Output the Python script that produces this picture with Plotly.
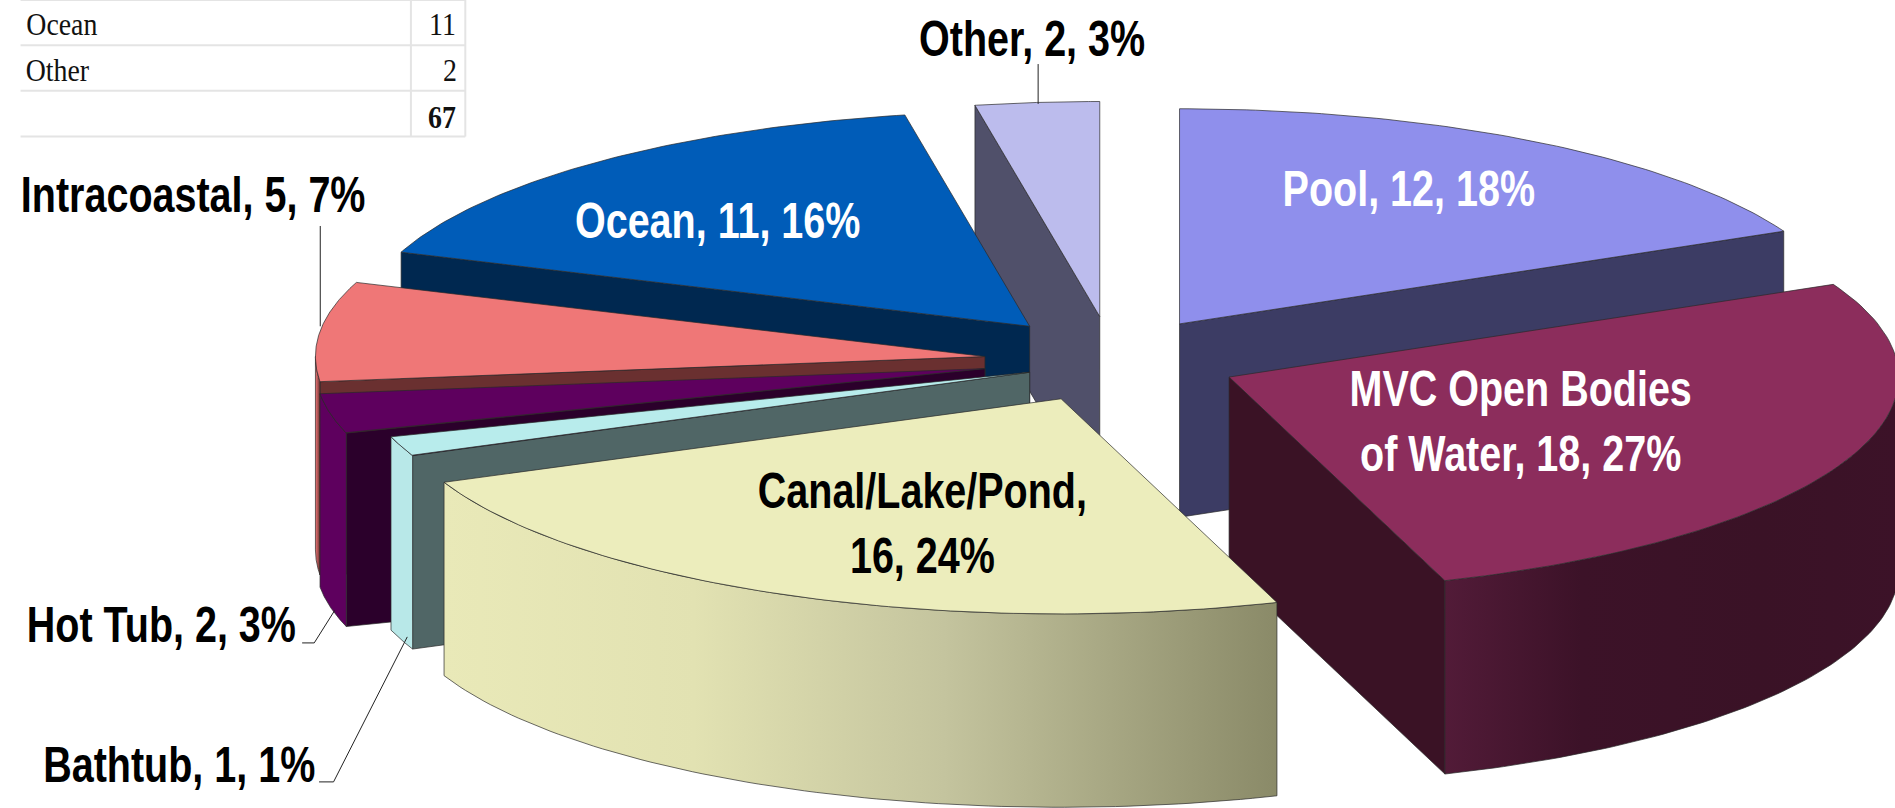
import numpy as np
import plotly.graph_objects as go

# ---- data ----
CATEGORIES = ["Pool", "MVC Open Bodies of Water", "Canal/Lake/Pond", "Bathtub",
              "Hot Tub", "Intracoastal", "Ocean", "Other"]
VALUES = [12, 18, 16, 1, 2, 5, 11, 2]
TABLE_ROWS = ["Ocean", "Other"]
TOTAL = sum(VALUES)

# ---- styles ----
TOP = ["#8f8fec", "#8c2d5c", "#ecedbc", "#b8ecec", "#5e005e", "#ef7777", "#005cb8", "#bcbced"]
FACE = ["#3c3c64", "#3a1225", "#75755e", "#506666", "#2b002b", "#6a3030", "#002850", "#50506a"]
RIM = [
    [[0, "#3c3c64"], [1, "#3c3c64"]],
    [[0, "#521b38"], [0.3, "#3c1228"], [0.7, "#3a1226"], [1, "#3c1228"]],
    [[0, "#e9e9b8"], [0.3, "#e2e2b2"], [0.6, "#c4c49e"], [1, "#8a8a68"]],
    [[0, "#b8e8e8"], [1, "#b8e8e8"]],
    [[0, "#5e005e"], [1, "#5e005e"]],
    [[0, "#ef7777"], [1, "#6a3030"]],
    [[0, "#002850"], [1, "#002850"]],
    [[0, "#50506a"], [1, "#50506a"]],
]
# exploded apex of each slice, in plot units
APEX = [(976, 268), (1017, 312), (878, 330), (852, 308), (815, 305), (815, 295), (852, 270), (910, 262)]
RX, RY, DEPTH = 554, 178, 160
DRAW_ORDER = [0, 7, 6, 5, 4, 3, 1, 2]
W, H = 1568, 668.6
OUTLINE = dict(color="#2a2a2a", width=0.7)

fig = go.Figure()


def poly(xs, ys, color=None, gradient=None):
    kw = dict(fillgradient=dict(type="horizontal", colorscale=gradient)) if gradient else dict(fillcolor=color)
    fig.add_trace(go.Scatter(x=xs, y=ys, mode="lines", fill="toself", line=OUTLINE,
                             hoverinfo="skip", showlegend=False, **kw))


def pt(ax, ay, t):
    return ax + RX * np.sin(t), ay - RY * np.cos(t)


edges = np.cumsum([0] + VALUES) / TOTAL * 2 * np.pi
for i in DRAW_ORDER:
    a0, a1 = edges[i], edges[i + 1]
    ax, ay = APEX[i]
    # start / end cut faces, only when they face the viewer
    for ang, vis in ((a0, np.sin(a0) < -1e-9), (a1, np.sin(a1) > 1e-9)):
        if vis:
            ex, ey = pt(ax, ay, ang)
            poly([ax, ex, ex, ax, ax], [ay, ey, ey + DEPTH, ay + DEPTH, ay], FACE[i])
    # outer rim: only the front half
    lo, hi = max(a0, np.pi / 2), min(a1, 3 * np.pi / 2)
    if hi > lo:
        t = np.linspace(lo, hi, 80)
        x, y = pt(ax, ay, t)
        poly(np.r_[x, x[::-1], x[0]], np.r_[y, y[::-1] + DEPTH, y[0]], gradient=RIM[i])
    # top
    t = np.linspace(a0, a1, 80)
    x, y = pt(ax, ay, t)
    poly(np.r_[ax, x, ax], np.r_[ay, y, ay], TOP[i])

# ---- leader lines ----
LEADERS = [
    ([265, 265], [187, 270]),
    ([859, 859], [53, 86]),
    ([250, 260, 277], [532, 532, 505]),
    ([264, 276, 337], [647, 647, 527]),
]
for lx, ly in LEADERS:
    fig.add_trace(go.Scatter(x=lx, y=ly, mode="lines", line=dict(color="#222", width=1),
                             hoverinfo="skip", showlegend=False))


def label(i):
    pct = round(VALUES[i] / TOTAL * 100)
    return f"{CATEGORIES[i]}, {VALUES[i]}, {pct}%"


LABEL_POS = [(1166, 156), (1258, 349), (763, 433), (148, 633), (134, 517), (160, 161), (594, 183), (854, 32)]
LABEL_COLOR = ["white", "white", "black", "black", "black", "black", "white", "black"]
FONT = "Liberation Sans, Arial, sans-serif"
annotations = []
for i, (lx, ly) in enumerate(LABEL_POS):
    txt = label(i).replace("Bodies of", "Bodies<br>of").replace("Pond, ", "Pond,<br>")
    annotations.append(dict(x=lx, y=ly, text=f"<b>{txt}</b>", showarrow=False, xanchor="center", yanchor="middle",
                            font=dict(family=FONT, size=50, color=LABEL_COLOR[i])))

# ---- spreadsheet fragment ----
shapes = []
for yy in (0, 37.5, 75, 113):
    shapes.append(dict(type="line", x0=17, x1=385, y0=yy, y1=yy, line=dict(color="#e4e4e4", width=2), layer="below"))
for xx in (340, 385):
    shapes.append(dict(type="line", x0=xx, x1=xx, y0=0, y1=113, line=dict(color="#e4e4e4", width=2), layer="below"))
TFONT = "Liberation Serif, Times New Roman, serif"
TSIZE = 32
for row, name in enumerate(TABLE_ROWS):
    yy = 20 + row * 38
    val = VALUES[CATEGORIES.index(name)]
    annotations.append(dict(x=16, y=yy, text=name, showarrow=False, xanchor="left", yanchor="middle",
                            font=dict(family=TFONT, size=TSIZE, color="#111")))
    annotations.append(dict(x=381, y=yy, text=str(val), showarrow=False, xanchor="right", yanchor="middle",
                            font=dict(family=TFONT, size=TSIZE, color="#111")))
annotations.append(dict(x=381, y=97, text=f"<b>{TOTAL}</b>", showarrow=False, xanchor="right", yanchor="middle",
                        font=dict(family=TFONT, size=TSIZE, color="#111")))

fig.update_layout(
    width=1895, height=808, margin=dict(l=0, r=0, t=0, b=0),
    paper_bgcolor="white", plot_bgcolor="white", showlegend=False,
    xaxis=dict(range=[0, W], visible=False, fixedrange=True),
    yaxis=dict(range=[H, 0], visible=False, fixedrange=True),
    annotations=annotations, shapes=shapes,
)
# The reference's lettering is horizontally squeezed: narrow each real text element about its centre.
POST = """
document.body.style.margin='0';document.body.style.overflow='hidden';
document.querySelectorAll('.annotation-text').forEach(function(t){
  var serif = (t.style.fontFamily||'').indexOf('Serif')>=0;
  t.style.transformBox='fill-box';t.style.transformOrigin='center';
  t.style.transform='scaleX('+(serif?0.87:0.79)+')';
});
"""
fig.write_html("out.html", post_script=POST, config={"displayModeBar": False})
